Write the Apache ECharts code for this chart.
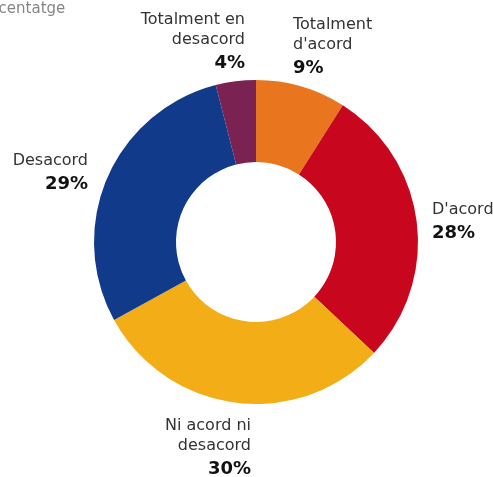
<!DOCTYPE html>
<html>
<head>
<meta charset="utf-8">
<script src="https://cdn.jsdelivr.net/npm/echarts@6/dist/echarts.min.js"></script>
<style>
  html, body { margin: 0; padding: 0; background: #fff; }
  #chart { width: 493px; height: 477px; }
</style>
</head>
<body>
<div id="chart"></div>
<script>
// answer categories, clockwise from the top
const categories = ["Totalment d'acord", "D'acord", 'Ni acord ni desacord', 'Desacord', 'Totalment en desacord']
const nameLines = [["Totalment", "d'acord"], ["D'acord"], ['Ni acord ni', 'desacord'], ['Desacord'], ['Totalment en', 'desacord']]
const percents = [9, 28, 30, 29, 4]
const colors = ['#EA751F', '#C8071E', '#F2AD17', '#123A8B', '#7A2251']

// where each label box sits (x, y, align)
const labelPos = [
  [293, 15, 'left'],
  [432, 200, 'left'],
  [251, 416, 'right'],
  [88, 151, 'right'],
  [245, 10, 'right']
]

let chart = echarts.init(document.getElementById('chart'))

let option = {
  animation: false,
  title: {
    text: 'Percentatge',
    left: -30,
    top: -3,
    textStyle: {
      fontFamily: 'DejaVu Sans',
      fontSize: 15,
      fontWeight: 'normal',
      color: '#858585'
    }
  },
  series: [
    {
      type: 'pie',
      center: [256, 242],
      radius: [80, 162],
      startAngle: 90,
      clockwise: true,
      data: categories.map((c, i) => ({
        name: c,
        value: percents[i],
        itemStyle: { color: colors[i] }
      })),
      labelLine: { show: false },
      label: {
        show: true,
        position: 'outside',
        alignTo: 'none',
        overflow: 'none',
        fontFamily: 'DejaVu Sans',
        formatter: p => {
          let lines = nameLines[p.dataIndex].map(t => '{n|' + t + '}')
          lines.push('{p|' + p.value + '%}')
          return lines.join('\n')
        },
        rich: {
          n: {
            fontFamily: 'DejaVu Sans',
            fontSize: 16,
            lineHeight: 20,
            color: '#333'
          },
          p: {
            fontFamily: 'DejaVu Sans',
            fontSize: 18,
            fontWeight: 'bold',
            lineHeight: 26,
            color: '#111'
          }
        }
      },
      labelLayout: params => {
        let pos = labelPos[params.dataIndex]
        return {
          x: pos[0],
          y: pos[1],
          align: pos[2],
          verticalAlign: 'top'
        }
      }
    }
  ]
}

chart.setOption(option)
</script>
</body>
</html>
